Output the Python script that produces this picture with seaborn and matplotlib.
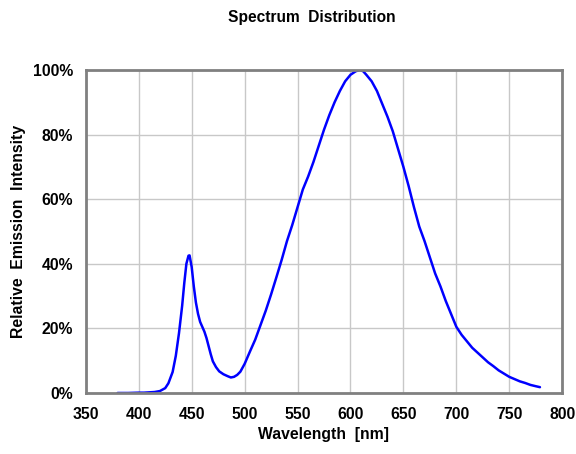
import pandas as pd
import matplotlib
matplotlib.use('Agg')
import matplotlib.pyplot as plt
import seaborn as sns
from matplotlib.ticker import PercentFormatter

# Values
wavelength = [380, 390, 400, 405, 410, 415, 420, 425, 428, 432, 435, 438, 441, 443,
              445, 447, 448, 450, 452, 454, 456, 458, 460, 462, 464, 466, 468, 470,
              473, 476, 480, 484, 487, 490, 493, 496, 500, 505, 510, 515, 520, 525,
              530, 535, 540, 545, 550, 555, 560, 565, 570, 575, 580, 585, 590, 595,
              600, 605, 609, 612, 615, 620, 625, 630, 635, 640, 645, 650, 655, 660,
              665, 670, 675, 680, 685, 690, 695, 700, 705, 710, 715, 720, 725, 730,
              735, 740, 745, 750, 755, 760, 765, 770, 775, 779]
intensity = [0, 0, 0.1, 0.1, 0.2, 0.3, 0.6, 1.5, 3, 6.5, 11.5, 18.5, 27, 34,
             40, 42.5, 42.6, 39, 33, 28, 24.5, 22, 20.5, 19, 17, 14.5, 12, 9.8,
             8, 6.7, 5.8, 5.2, 4.8, 5, 5.6, 6.6, 9, 12.8, 16.5, 21, 25.5, 30.5,
             35.8, 41.2, 47, 52, 57.5, 63, 67, 71.5, 76.5, 81.5, 86, 90, 93.5, 96.5,
             98.5, 99.6, 100, 99.6, 98.5, 96.5, 93.5, 89.5, 85.5, 81, 75.5, 70, 64, 57.5,
             51.5, 47, 42, 37, 33, 28.5, 24.5, 20.5, 18, 16, 14, 12.5, 11, 9.5,
             8.3, 7, 6, 5, 4.3, 3.6, 3.1, 2.5, 2.1, 1.8]

x_ticks = [350, 400, 450, 500, 550, 600, 650, 700, 750, 800]
y_ticks = [0, 20, 40, 60, 80, 100]

df = pd.DataFrame({'wavelength': wavelength, 'intensity': intensity})

sns.set_style('white')
plt.rcParams['font.family'] = ['Liberation Sans', 'DejaVu Sans']
plt.rcParams['text.color'] = 'black'
plt.rcParams['axes.labelcolor'] = 'black'
plt.rcParams['xtick.labelcolor'] = 'black'
plt.rcParams['ytick.labelcolor'] = 'black'

fig = plt.figure(figsize=(5.76, 4.54), dpi=100)
ax = fig.add_axes([0.149, 0.1344, 0.827, 0.7115])

sns.lineplot(data=df, x='wavelength', y='intensity', color='#0000ff', linewidth=1.8, ax=ax)

ax.set_xlim(350, 800)
ax.set_ylim(0, 100)
ax.set_xticks(x_ticks)
ax.set_yticks(y_ticks)
ax.yaxis.set_major_formatter(PercentFormatter(decimals=0))
ax.grid(True, color='#c8c8c8', linewidth=1)
ax.set_axisbelow(True)

for s in ax.spines.values():
    s.set_color('#808080')
    s.set_linewidth(2)
ax.tick_params(direction='in', length=4, width=1.5, color='#808080', labelsize=11.3)
ax.tick_params(axis='x', pad=10)
ax.tick_params(axis='y', pad=9)
for lbl in ax.get_xticklabels() + ax.get_yticklabels():
    lbl.set_fontweight('bold')

ax.set_xlabel('Wavelength  [nm]', fontsize=11.3, fontweight='bold', labelpad=4)
ax.set_ylabel('Relative  Emission  Intensity', fontsize=11.3, fontweight='bold', labelpad=5)
fig.text(0.542, 0.962, 'Spectrum  Distribution', ha='center', va='center',
         fontsize=11.2, fontweight='bold')

fig.savefig('out.png', dpi=100)
